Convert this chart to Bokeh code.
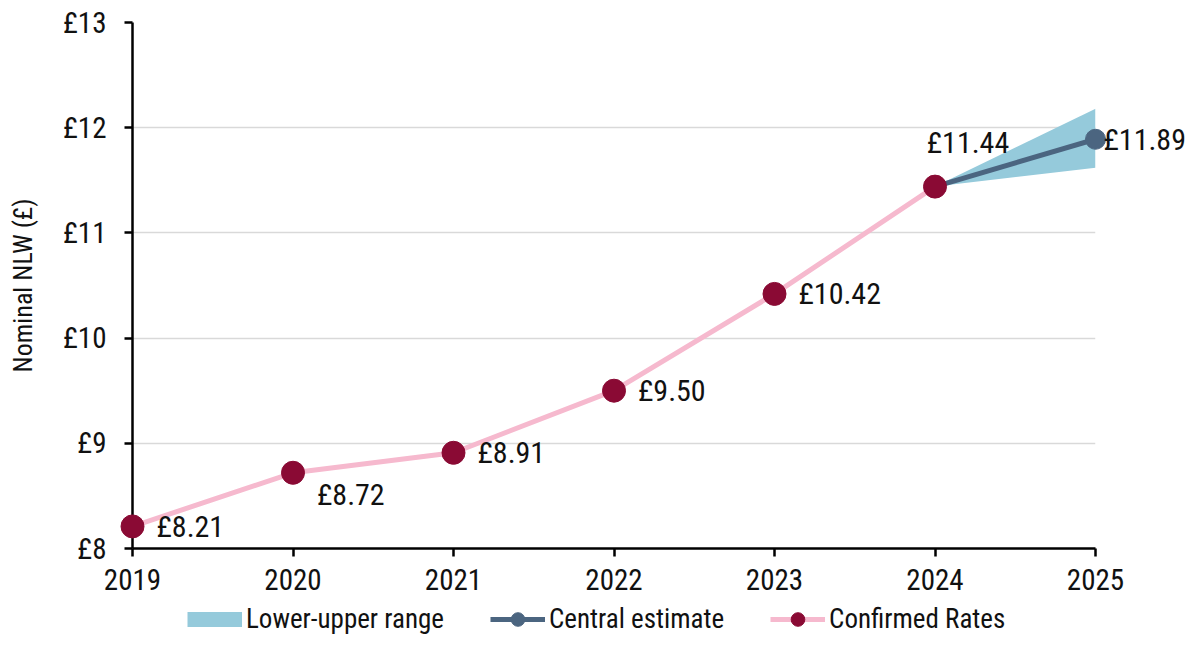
from bokeh.plotting import figure
from bokeh.layouts import column
from bokeh.models import Range1d, FixedTicker, Legend, LegendItem
from bokeh.core.properties import value
from bokeh.embed import file_html
from bokeh.resources import INLINE

# ---- data ----
years = [2019, 2020, 2021, 2022, 2023, 2024]
confirmed = [8.21, 8.72, 8.91, 9.50, 10.42, 11.44]
central_years = [2024, 2025]
central = [11.44, 11.89]
range_years = [2024, 2025]
range_low = [11.44, 11.62]
range_high = [11.44, 12.18]
y_ticks = [8, 9, 10, 11, 12, 13]
y_tick_labels = ["£8", "£9", "£10", "£11", "£12", "£13"]
x_ticks = [2019, 2020, 2021, 2022, 2023, 2024, 2025]
x_tick_labels = ["2019", "2020", "2021", "2022", "2023", "2024", "2025"]
series_names = ["Lower-upper range", "Central estimate", "Confirmed Rates"]

FONT = "'Roboto Condensed', 'Liberation Sans Narrow', 'DejaVu Sans Condensed', sans-serif"
PINK = "#F6B9CE"
MAROON = "#8A0A34"
SLATE = "#4B6580"
BAND = "#95CADB"
TXT = "#111111"

W = 1185
p = figure(width=W, height=600, output_backend="svg", toolbar_location=None,
           x_range=Range1d(2019, 2025), y_range=Range1d(8, 13),
           min_border_left=132, min_border_right=90, min_border_top=22, min_border_bottom=52)
p.outline_line_color = None
p.xgrid.grid_line_color = None
p.ygrid.grid_line_color = "#D9D9D9"
p.ygrid.grid_line_width = 1.5

p.yaxis.ticker = FixedTicker(ticks=y_ticks)
p.yaxis.major_label_overrides = {t: l for t, l in zip(y_ticks, y_tick_labels)}
p.xaxis.ticker = FixedTicker(ticks=x_ticks)
p.xaxis.major_label_overrides = {t: l for t, l in zip(x_ticks, x_tick_labels)}
for ax in (p.xaxis, p.yaxis):
    ax.axis_line_color = "black"
    ax.axis_line_width = 2.5
    ax.major_tick_line_color = "black"
    ax.major_tick_line_width = 2.5
    ax.major_tick_out = 8
    ax.major_tick_in = 0
    ax.minor_tick_line_color = None
    ax.major_label_text_font = FONT
    ax.major_label_text_font_size = "29px"
    ax.major_label_text_color = TXT
p.yaxis.major_label_standoff = 18
p.xaxis.major_label_standoff = 12
p.yaxis.axis_label = "Nominal NLW (£)"
p.yaxis.axis_label_text_font = FONT
p.yaxis.axis_label_text_font_size = "26px"
p.yaxis.axis_label_text_font_style = "normal"
p.yaxis.axis_label_text_color = TXT
p.yaxis.axis_label_standoff = 22

band = p.varea(x=range_years, y1=range_low, y2=range_high, fill_color=BAND, fill_alpha=1)
cline = p.line(central_years, central, line_color=SLATE, line_width=5)
pline = p.line(years, confirmed, line_color=PINK, line_width=5)
cdots = p.scatter(central_years[1:], central[1:], size=20, fill_color=SLATE, line_color=SLATE, level="overlay")
pdots = p.scatter(years, confirmed, size=23, fill_color=MAROON, line_color=MAROON, level="overlay")

def lab(xs, ys, xo, yo, align="left"):
    txt = ["£%.2f" % v for v in ys]
    p.text(x=xs, y=ys, text=txt, x_offset=xo, y_offset=yo, text_align=align,
           text_baseline="middle", text_font=value(FONT), text_font_size="30px",
           text_color=TXT, level="overlay")

right_idx = [0, 2, 3, 4]
lab([years[i] for i in right_idx], [confirmed[i] for i in right_idx], 24, 0)
lab([years[1]], [confirmed[1]], 24, 22)
lab([years[5]], [confirmed[5]], 33, -44, "center")
lab([central_years[1]], [central[1]], 8, 0)

# ---- legend strip (separate small figure; its frame aligns with the main frame) ----
lg = figure(width=W, height=36, output_backend="svg", toolbar_location=None,
            x_range=Range1d(0, 1), y_range=Range1d(0, 1),
            x_axis_type=None, y_axis_type=None, min_border=0)
lg.outline_line_color = None
lg.xgrid.grid_line_color = None
lg.ygrid.grid_line_color = None
# proxies drawn only inside the legend (their single point sits outside the visible range)
px, py = [-5], [-5]
leg_band = lg.line(px, py, line_color=BAND, line_width=15, line_cap="butt")
leg_cl = lg.line(px, py, line_color=SLATE, line_width=5)
leg_cd = lg.scatter(px, py, fill_color=SLATE, line_color=SLATE)
leg_pl = lg.line(px, py, line_color=PINK, line_width=5)
leg_pd = lg.scatter(px, py, fill_color=MAROON, line_color=MAROON)

legend = Legend(items=[
    LegendItem(label=series_names[0], renderers=[leg_band]),
    LegendItem(label=series_names[1], renderers=[leg_cl, leg_cd]),
    LegendItem(label=series_names[2], renderers=[leg_pl, leg_pd]),
], orientation="horizontal", location=(55, 0))
legend.glyph_width = 55
legend.glyph_height = 34
legend.label_standoff = 4
legend.label_height = 34
legend.spacing = 46
legend.padding = 0
legend.margin = 0
legend.border_line_color = None
legend.background_fill_alpha = 0
legend.label_text_font = FONT
legend.label_text_font_size = "27px"
legend.label_text_color = TXT
lg.add_layout(legend)

layout = column(p, lg, spacing=0)
open("out.html", "w").write(file_html(layout, INLINE))
